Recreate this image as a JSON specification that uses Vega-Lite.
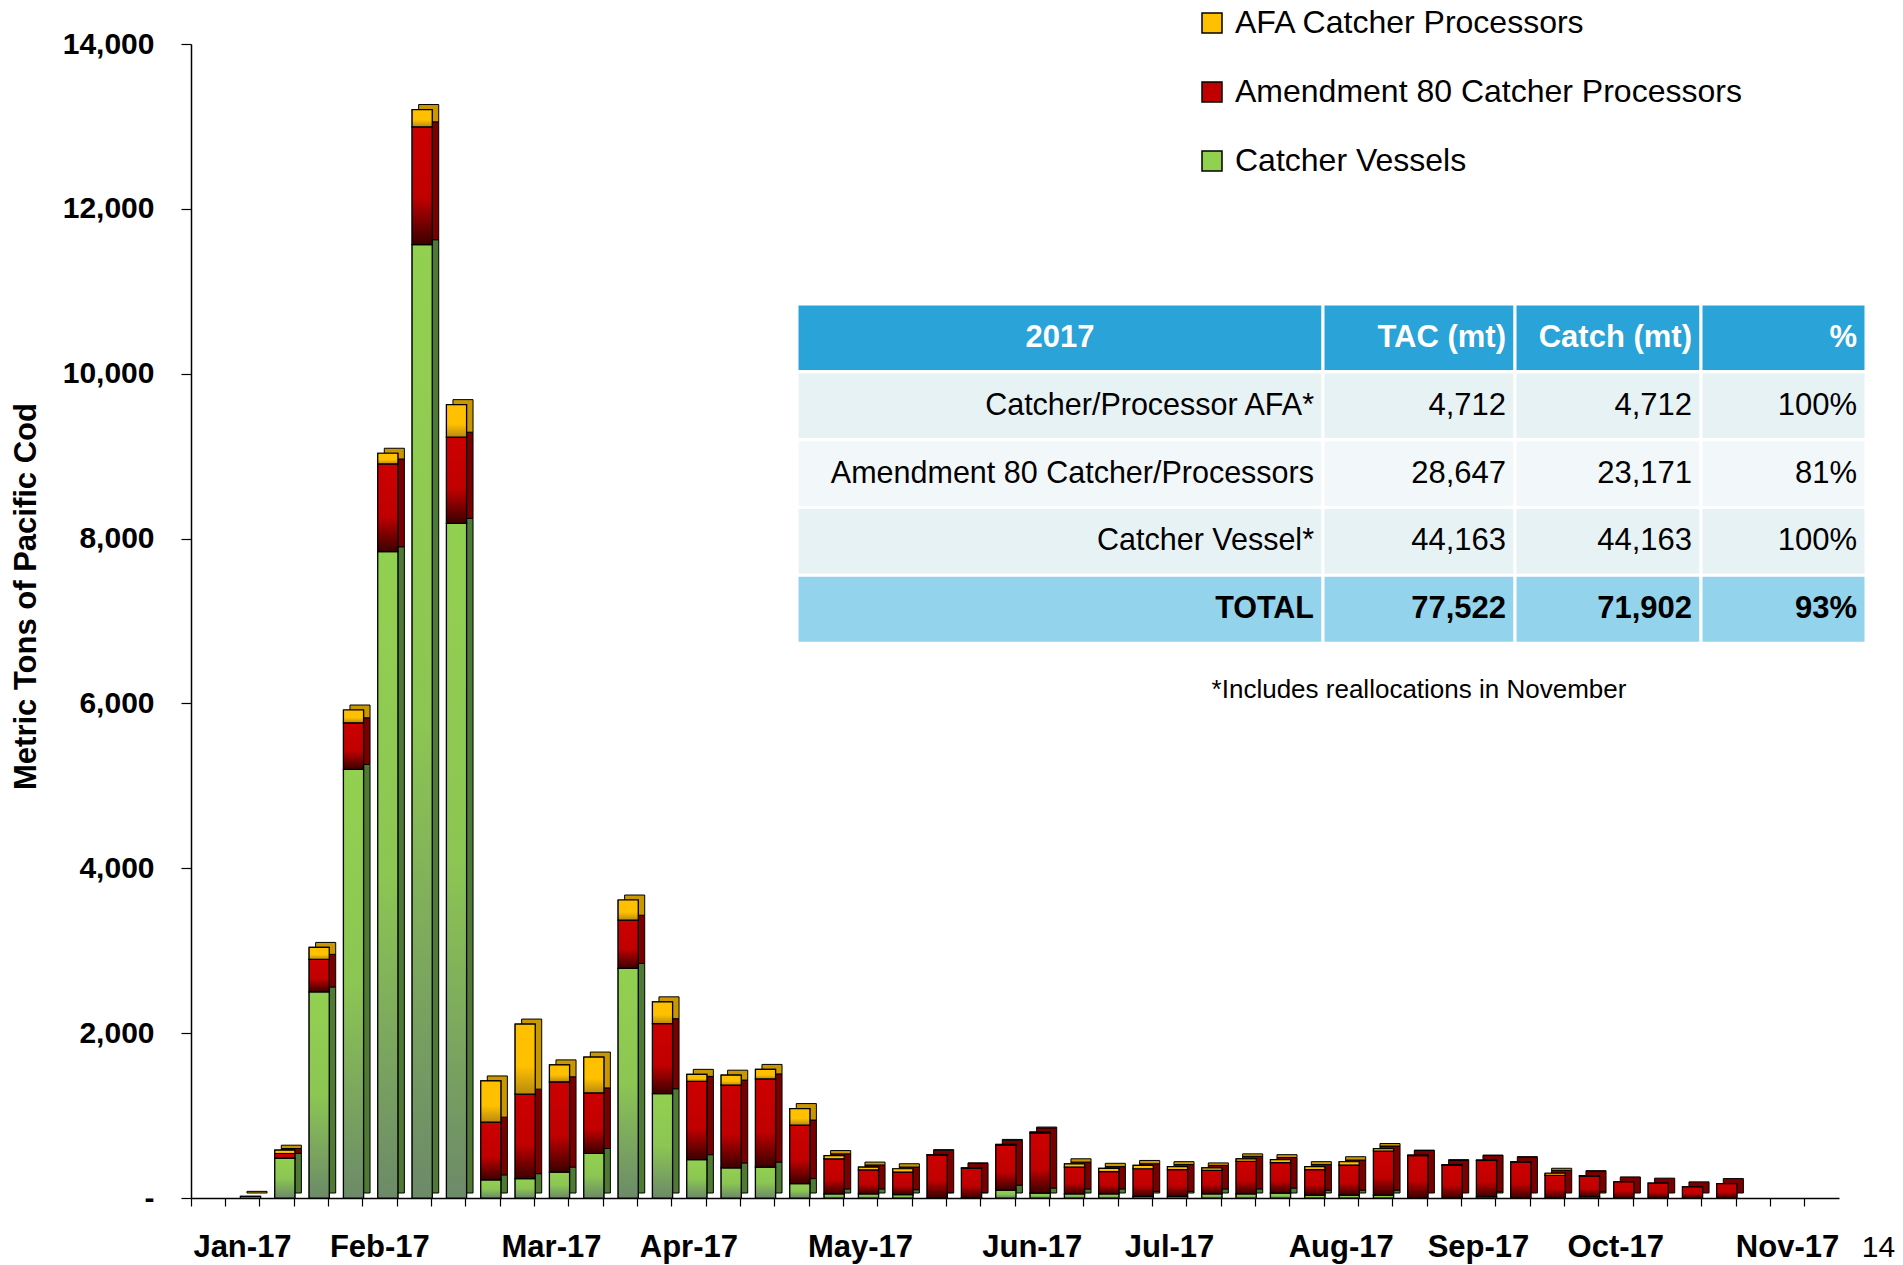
{
  "$schema": "https://vega.github.io/schema/vega-lite/v6.json",
  "width": 1648,
  "height": 1154,
  "autosize": {"type": "none"},
  "padding": {"left": 191, "top": 44, "right": 64, "bottom": 67},
  "background": "white",
  "config": {
    "view": {"stroke": null},
    "font": "Liberation Sans",
    "axis": {"labelFont": "Liberation Sans", "titleFont": "Liberation Sans"},
    "legend": {"labelFont": "Liberation Sans"},
    "text": {"font": "Liberation Sans"}
  },
  "datasets": {
    "catch": [
      {"week": "2017-01-07", "AFA Catcher Processors": 20, "Amendment 80 Catcher Processors": 0, "Catcher Vessels": 0},
      {"week": "2017-01-14", "AFA Catcher Processors": 40, "Amendment 80 Catcher Processors": 60, "Catcher Vessels": 480},
      {"week": "2017-01-21", "AFA Catcher Processors": 145, "Amendment 80 Catcher Processors": 395, "Catcher Vessels": 2500},
      {"week": "2017-01-28", "AFA Catcher Processors": 155, "Amendment 80 Catcher Processors": 565, "Catcher Vessels": 5200},
      {"week": "2017-02-04", "AFA Catcher Processors": 130, "Amendment 80 Catcher Processors": 1065, "Catcher Vessels": 7840},
      {"week": "2017-02-11", "AFA Catcher Processors": 210, "Amendment 80 Catcher Processors": 1430, "Catcher Vessels": 11565},
      {"week": "2017-02-18", "AFA Catcher Processors": 395, "Amendment 80 Catcher Processors": 1045, "Catcher Vessels": 8185},
      {"week": "2017-02-25", "AFA Catcher Processors": 500, "Amendment 80 Catcher Processors": 700, "Catcher Vessels": 220},
      {"week": "2017-03-04", "AFA Catcher Processors": 850, "Amendment 80 Catcher Processors": 1025, "Catcher Vessels": 235},
      {"week": "2017-03-11", "AFA Catcher Processors": 205, "Amendment 80 Catcher Processors": 1095, "Catcher Vessels": 315},
      {"week": "2017-03-18", "AFA Catcher Processors": 435, "Amendment 80 Catcher Processors": 735, "Catcher Vessels": 540},
      {"week": "2017-03-25", "AFA Catcher Processors": 245, "Amendment 80 Catcher Processors": 585, "Catcher Vessels": 2785},
      {"week": "2017-04-01", "AFA Catcher Processors": 265, "Amendment 80 Catcher Processors": 850, "Catcher Vessels": 1265},
      {"week": "2017-04-08", "AFA Catcher Processors": 85, "Amendment 80 Catcher Processors": 950, "Catcher Vessels": 465},
      {"week": "2017-04-15", "AFA Catcher Processors": 120, "Amendment 80 Catcher Processors": 1005, "Catcher Vessels": 365},
      {"week": "2017-04-22", "AFA Catcher Processors": 115, "Amendment 80 Catcher Processors": 1070, "Catcher Vessels": 375},
      {"week": "2017-04-29", "AFA Catcher Processors": 200, "Amendment 80 Catcher Processors": 710, "Catcher Vessels": 175},
      {"week": "2017-05-06", "AFA Catcher Processors": 40, "Amendment 80 Catcher Processors": 425, "Catcher Vessels": 50},
      {"week": "2017-05-13", "AFA Catcher Processors": 35, "Amendment 80 Catcher Processors": 290, "Catcher Vessels": 50},
      {"week": "2017-05-20", "AFA Catcher Processors": 40, "Amendment 80 Catcher Processors": 275, "Catcher Vessels": 40},
      {"week": "2017-05-27", "AFA Catcher Processors": 5, "Amendment 80 Catcher Processors": 515, "Catcher Vessels": 5},
      {"week": "2017-06-03", "AFA Catcher Processors": 5, "Amendment 80 Catcher Processors": 355, "Catcher Vessels": 5},
      {"week": "2017-06-10", "AFA Catcher Processors": 10, "Amendment 80 Catcher Processors": 545, "Catcher Vessels": 95},
      {"week": "2017-06-17", "AFA Catcher Processors": 10, "Amendment 80 Catcher Processors": 730, "Catcher Vessels": 60},
      {"week": "2017-06-24", "AFA Catcher Processors": 40, "Amendment 80 Catcher Processors": 325, "Catcher Vessels": 50},
      {"week": "2017-07-01", "AFA Catcher Processors": 40, "Amendment 80 Catcher Processors": 270, "Catcher Vessels": 50},
      {"week": "2017-07-08", "AFA Catcher Processors": 40, "Amendment 80 Catcher Processors": 335, "Catcher Vessels": 20},
      {"week": "2017-07-15", "AFA Catcher Processors": 35, "Amendment 80 Catcher Processors": 325, "Catcher Vessels": 20},
      {"week": "2017-07-22", "AFA Catcher Processors": 30, "Amendment 80 Catcher Processors": 285, "Catcher Vessels": 50},
      {"week": "2017-07-29", "AFA Catcher Processors": 30, "Amendment 80 Catcher Processors": 395, "Catcher Vessels": 50},
      {"week": "2017-08-05", "AFA Catcher Processors": 35, "Amendment 80 Catcher Processors": 370, "Catcher Vessels": 60},
      {"week": "2017-08-12", "AFA Catcher Processors": 35, "Amendment 80 Catcher Processors": 310, "Catcher Vessels": 35},
      {"week": "2017-08-19", "AFA Catcher Processors": 40, "Amendment 80 Catcher Processors": 365, "Catcher Vessels": 35},
      {"week": "2017-08-26", "AFA Catcher Processors": 30, "Amendment 80 Catcher Processors": 535, "Catcher Vessels": 35},
      {"week": "2017-09-02", "AFA Catcher Processors": 5, "Amendment 80 Catcher Processors": 515, "Catcher Vessels": 0},
      {"week": "2017-09-09", "AFA Catcher Processors": 10, "Amendment 80 Catcher Processors": 395, "Catcher Vessels": 0},
      {"week": "2017-09-16", "AFA Catcher Processors": 5, "Amendment 80 Catcher Processors": 440, "Catcher Vessels": 15},
      {"week": "2017-09-23", "AFA Catcher Processors": 5, "Amendment 80 Catcher Processors": 435, "Catcher Vessels": 0},
      {"week": "2017-09-30", "AFA Catcher Processors": 25, "Amendment 80 Catcher Processors": 275, "Catcher Vessels": 0},
      {"week": "2017-10-07", "AFA Catcher Processors": 5, "Amendment 80 Catcher Processors": 250, "Catcher Vessels": 15},
      {"week": "2017-10-14", "AFA Catcher Processors": 0, "Amendment 80 Catcher Processors": 195, "Catcher Vessels": 0},
      {"week": "2017-10-21", "AFA Catcher Processors": 0, "Amendment 80 Catcher Processors": 180, "Catcher Vessels": 0},
      {"week": "2017-10-28", "AFA Catcher Processors": 0, "Amendment 80 Catcher Processors": 135, "Catcher Vessels": 0},
      {"week": "2017-11-04", "AFA Catcher Processors": 0, "Amendment 80 Catcher Processors": 175, "Catcher Vessels": 0}
    ],
    "table": [
      {"label": "2017", "tac": "TAC (mt)", "catch": "Catch (mt)", "pct": "%"},
      {"label": "Catcher/Processor AFA*", "tac": "4,712", "catch": "4,712", "pct": "100%"},
      {"label": "Amendment 80 Catcher/Processors", "tac": "28,647", "catch": "23,171", "pct": "81%"},
      {"label": "Catcher Vessel*", "tac": "44,163", "catch": "44,163", "pct": "100%"},
      {"label": "TOTAL", "tac": "77,522", "catch": "71,902", "pct": "93%"},
      {"label": "*Includes reallocations in November"}
    ]
  },
  "layer": [
    {
      "data": {"name": "catch"},
      "transform": [
        {"fold": ["Catcher Vessels", "Amendment 80 Catcher Processors", "AFA Catcher Processors"], "as": ["series", "mt"]},
        {"filter": "datum.mt > 0"},
        {"stack": "mt", "groupby": ["week"], "sort": [{"field": "series", "order": "descending"}], "as": ["y0", "y1"]}
      ],
      "encoding": {
        "x": {
          "field": "week", "type": "ordinal",
          "scale": {
            "domain": ["2016-12-31","2017-01-07","2017-01-14","2017-01-21","2017-01-28","2017-02-04","2017-02-11","2017-02-18","2017-02-25","2017-03-04","2017-03-11","2017-03-18","2017-03-25","2017-04-01","2017-04-08","2017-04-15","2017-04-22","2017-04-29","2017-05-06","2017-05-13","2017-05-20","2017-05-27","2017-06-03","2017-06-10","2017-06-17","2017-06-24","2017-07-01","2017-07-08","2017-07-15","2017-07-22","2017-07-29","2017-08-05","2017-08-12","2017-08-19","2017-08-26","2017-09-02","2017-09-09","2017-09-16","2017-09-23","2017-09-30","2017-10-07","2017-10-14","2017-10-21","2017-10-28","2017-11-04","2017-11-11","2017-11-18","2017-11-25"],
            "paddingInner": 0, "paddingOuter": 0
          },
          "axis": {
            "title": "14", "titleFontSize": 30, "titleFontWeight": "normal", "titleColor": "black",
            "titleX": 1687, "titleY": 49, "titleAlign": "center", "titleBaseline": "middle", "titleAngle": 0,
            "bandPosition": 0, "labelAngle": 0,
            "labelExpr": "datum.value == '2017-01-07' ? 'Jan-17' : datum.value == '2017-02-04' ? 'Feb-17' : datum.value == '2017-03-11' ? 'Mar-17' : datum.value == '2017-04-08' ? 'Apr-17' : datum.value == '2017-05-13' ? 'May-17' : datum.value == '2017-06-17' ? 'Jun-17' : datum.value == '2017-07-15' ? 'Jul-17' : datum.value == '2017-08-19' ? 'Aug-17' : datum.value == '2017-09-16' ? 'Sep-17' : datum.value == '2017-10-14' ? 'Oct-17' : datum.value == '2017-11-18' ? 'Nov-17' : ''",
            "labelFontSize": 31, "labelFontWeight": "bold", "labelColor": "black", "labelAlign": "center",
            "labelPadding": 26, "labelOverlap": false, "labelBound": false, "labelFlush": false,
            "tickSize": 8, "tickColor": "black", "tickWidth": 1.2,
            "domainColor": "black", "domainWidth": 1.5, "grid": false
          }
        },
        "y": {
          "field": "y1", "type": "quantitative",
          "scale": {"domain": [0, 14000], "nice": false},
          "axis": {
            "title": "Metric Tons of Pacific Cod",
            "values": [0, 2000, 4000, 6000, 8000, 10000, 12000, 14000],
            "labelExpr": "datum.value == 0 ? '-' : format(datum.value, ',')",
            "labelFontSize": 30, "labelFontWeight": "bold", "labelColor": "black", "labelPadding": 27,
            "tickSize": 10, "tickColor": "black", "tickWidth": 1.2,
            "domainColor": "black", "domainWidth": 1.5, "grid": false,
            "titleFontSize": 31, "titleFontWeight": "bold", "titleColor": "black", "titlePadding": 20, "titleY": 552
          }
        },
        "y2": {"field": "y0"}
      },
      "layer": [
        {
          "transform": [{"filter": "datum.series === 'Catcher Vessels'"}],
          "mark": {"type": "bar", "width": {"band": 0.585}, "xOffset": 14.5, "yOffset": -5, "y2Offset": -5, "stroke": "black", "strokeWidth": 1, "fill": "#4E7A33"}
        },
        {
          "transform": [{"filter": "datum.series === 'Amendment 80 Catcher Processors'"}],
          "mark": {"type": "bar", "width": {"band": 0.585}, "xOffset": 14.5, "yOffset": -5, "y2Offset": -5, "stroke": "black", "strokeWidth": 1, "fill": "#7A0000"}
        },
        {
          "transform": [{"filter": "datum.series === 'AFA Catcher Processors'"}],
          "mark": {"type": "bar", "width": {"band": 0.585}, "xOffset": 14.5, "yOffset": -5, "y2Offset": -5, "stroke": "black", "strokeWidth": 1, "fill": "#C99700"}
        },
        {
          "mark": {"type": "bar", "width": {"band": 0.585}, "xOffset": 8, "stroke": "black", "strokeWidth": 1.2},
          "encoding": {
            "color": {
              "field": "series", "type": "nominal",
              "scale": {"domain": ["AFA Catcher Processors", "Amendment 80 Catcher Processors", "Catcher Vessels"], "range": ["#FFC000", "#C00000", "#92D050"]},
              "legend": {
                "title": null, "orient": "none", "legendX": 1005, "legendY": -37, "direction": "vertical",
                "symbolType": "square", "symbolSize": 400, "symbolStrokeColor": "black", "symbolStrokeWidth": 1.5,
                "labelFontSize": 32, "labelColor": "black", "rowPadding": 37, "labelOffset": 7, "labelLimit": 0, "padding": 0
              }
            }
          }
        },
        {
          "transform": [{"filter": "datum.series === 'Catcher Vessels'"}],
          "mark": {"type": "bar", "width": {"band": 0.585}, "xOffset": 8, "stroke": "black", "strokeWidth": 1.2,
            "fill": {"gradient": "linear", "x1": 0, "y1": 0, "x2": 0, "y2": 1, "stops": [{"offset": 0, "color": "#92D050"}, {"offset": 0.5, "color": "#8CC653"}, {"offset": 1, "color": "#6C8A68"}]}}
        },
        {
          "transform": [{"filter": "datum.series === 'Amendment 80 Catcher Processors'"}],
          "mark": {"type": "bar", "width": {"band": 0.585}, "xOffset": 8, "stroke": "black", "strokeWidth": 1.2,
            "fill": {"gradient": "linear", "x1": 0, "y1": 0, "x2": 0, "y2": 1, "stops": [{"offset": 0, "color": "#CC0000"}, {"offset": 0.6, "color": "#C00000"}, {"offset": 1, "color": "#3A0000"}]}}
        },
        {
          "transform": [{"filter": "datum.series === 'AFA Catcher Processors'"}],
          "mark": {"type": "bar", "width": {"band": 0.585}, "xOffset": 8, "stroke": "black", "strokeWidth": 1.2,
            "fill": {"gradient": "linear", "x1": 0, "y1": 0, "x2": 0, "y2": 1, "stops": [{"offset": 0, "color": "#FFC000"}, {"offset": 0.6, "color": "#FFC000"}, {"offset": 1, "color": "#B88A10"}]}}
        }
      ]
    },
    {
      "data": {"name": "table"},
      "encoding": {
        "y": {"field": "label", "type": "nominal",
          "scale": {"type": "band", "domain": ["2017", "Catcher/Processor AFA*", "Amendment 80 Catcher/Processors", "Catcher Vessel*", "TOTAL", "*Includes reallocations in November"], "range": [260, 667], "paddingInner": 0, "paddingOuter": 0},
          "axis": null}
      },
      "layer": [
        {
          "transform": [{"filter": "isValid(datum.tac)"}],
          "mark": {"type": "rect", "stroke": "white", "strokeWidth": 3},
          "encoding": {
            "x": {"datum": 0, "type": "quantitative", "scale": {"domain": [0, 1, 2, 3, 4], "range": [606, 1132, 1324, 1510, 1675], "nice": false, "zero": false}, "axis": null},
            "x2": {"datum": 1},
            "fill": {"field": "label", "type": "nominal", "scale": {"domain": ["2017", "Catcher/Processor AFA*", "Amendment 80 Catcher/Processors", "Catcher Vessel*", "TOTAL"], "range": ["#29A3D8", "#E7F2F5", "#F2F7F9", "#E7F2F5", "#94D3EC"]}, "legend": null}
          }
        },
        {
          "transform": [{"filter": "isValid(datum.tac)"}],
          "mark": {"type": "rect", "stroke": "white", "strokeWidth": 3},
          "encoding": {"x": {"datum": 1, "type": "quantitative"}, "x2": {"datum": 2}, "fill": {"field": "label", "type": "nominal", "legend": null}}
        },
        {
          "transform": [{"filter": "isValid(datum.tac)"}],
          "mark": {"type": "rect", "stroke": "white", "strokeWidth": 3},
          "encoding": {"x": {"datum": 2, "type": "quantitative"}, "x2": {"datum": 3}, "fill": {"field": "label", "type": "nominal", "legend": null}}
        },
        {
          "transform": [{"filter": "isValid(datum.tac)"}],
          "mark": {"type": "rect", "stroke": "white", "strokeWidth": 3},
          "encoding": {"x": {"datum": 3, "type": "quantitative"}, "x2": {"datum": 4}, "fill": {"field": "label", "type": "nominal", "legend": null}}
        },
        {
          "transform": [{"filter": "datum.label === '2017'"}],
          "mark": {"type": "text", "fontSize": 31, "fontWeight": "bold", "color": "white", "align": "center", "baseline": "middle"},
          "encoding": {"x": {"datum": 0.5, "type": "quantitative"}, "text": {"field": "label"}}
        },
        {
          "transform": [{"filter": "isValid(datum.tac) && datum.label !== '2017'"}],
          "mark": {"type": "text", "fontSize": 30.5, "fontWeight": {"expr": "datum.label === 'TOTAL' ? 'bold' : 'normal'"}, "color": "black", "align": "right", "baseline": "middle", "dx": -9},
          "encoding": {"x": {"datum": 1, "type": "quantitative"}, "text": {"field": "label"}}
        },
        {
          "transform": [{"filter": "isValid(datum.tac)"}],
          "mark": {"type": "text", "fontSize": 31, "fontWeight": {"expr": "datum.label === 'TOTAL' || datum.label === '2017' ? 'bold' : 'normal'"}, "align": "right", "baseline": "middle", "dx": -9},
          "encoding": {"x": {"datum": 2, "type": "quantitative"}, "text": {"field": "tac"}, "color": {"condition": {"test": "datum.label === '2017'", "value": "white"}, "value": "black"}}
        },
        {
          "transform": [{"filter": "isValid(datum.tac)"}],
          "mark": {"type": "text", "fontSize": 31, "fontWeight": {"expr": "datum.label === 'TOTAL' || datum.label === '2017' ? 'bold' : 'normal'"}, "align": "right", "baseline": "middle", "dx": -9},
          "encoding": {"x": {"datum": 3, "type": "quantitative"}, "text": {"field": "catch"}, "color": {"condition": {"test": "datum.label === '2017'", "value": "white"}, "value": "black"}}
        },
        {
          "transform": [{"filter": "isValid(datum.tac)"}],
          "mark": {"type": "text", "fontSize": 31, "fontWeight": {"expr": "datum.label === 'TOTAL' || datum.label === '2017' ? 'bold' : 'normal'"}, "align": "right", "baseline": "middle", "dx": -9},
          "encoding": {"x": {"datum": 4, "type": "quantitative"}, "text": {"field": "pct"}, "color": {"condition": {"test": "datum.label === '2017'", "value": "white"}, "value": "black"}}
        },
        {
          "transform": [{"filter": "!isValid(datum.tac)"}],
          "mark": {"type": "text", "fontSize": 26, "color": "black", "align": "center", "baseline": "top"},
          "encoding": {"x": {"datum": 1.5, "type": "quantitative"}, "text": {"field": "label"}}
        }
      ]
    }
  ],
  "resolve": {
    "scale": {"x": "independent", "y": "independent", "fill": "independent", "color": "independent"},
    "axis": {"x": "independent", "y": "independent"}
  }
}
